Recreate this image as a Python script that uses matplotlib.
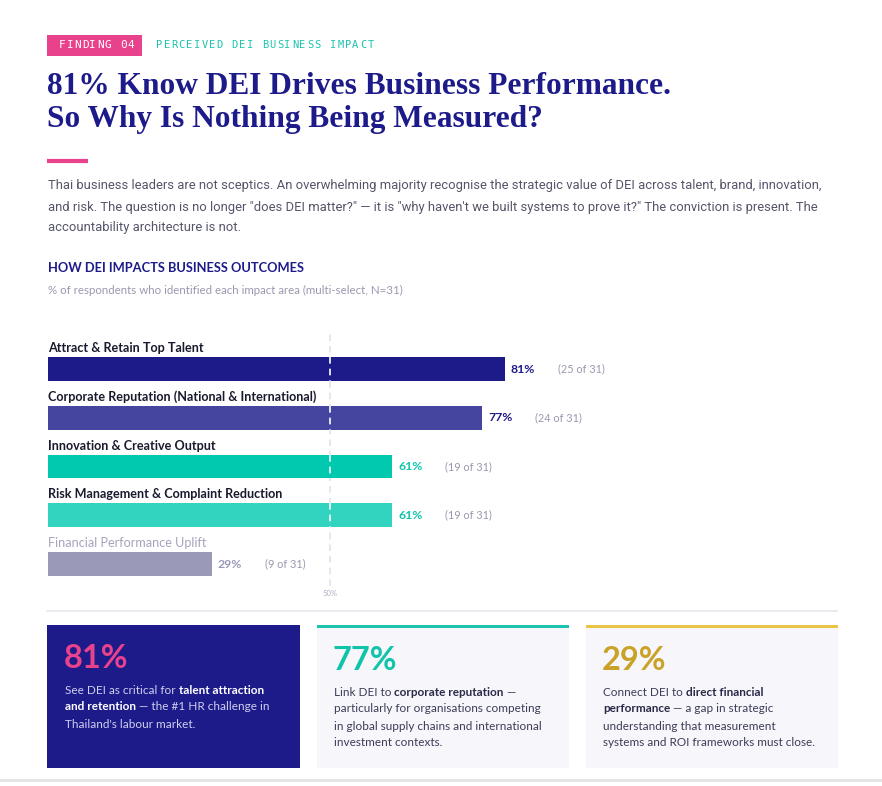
import matplotlib
matplotlib.use("Agg")
import matplotlib.pyplot as plt
from matplotlib.patches import Rectangle

# data
categories = [
    "Attract & Retain Top Talent",
    "Corporate Reputation (National & International)",
    "Innovation & Creative Output",
    "Risk Management & Complaint Reduction",
    "Financial Performance Uplift",
]
percent = [81, 77, 61, 61, 29]
counts = [25, 24, 19, 19, 9]
n_total = 31
bar_colors = ["#1d1a8a", "#45459f", "#00c9b0", "#33d4bf", "#9b99b8"]
value_colors = ["#1d1a8a", "#1d1a8a", "#10c4aa", "#10c4aa", "#9b99b8"]
label_colors = ["#1a1a2e", "#1a1a2e", "#1a1a2e", "#1a1a2e", "#a6a4bd"]
reference_line = 50

NAVY = "#1d1a8a"
PINK = "#e8428c"
TEAL = "#10c4aa"
GOLD = "#c9a227"
SANS = "Lato"

fig = plt.figure(figsize=(8.82, 7.86), dpi=100)
fig.patch.set_facecolor("white")

# full-figure axes in pixel coordinates for text / panels
bg = fig.add_axes([0, 0, 1, 1])
bg.set_xlim(0, 882)
bg.set_ylim(786, 0)
bg.axis("off")

renderer = fig.canvas.get_renderer()


def spaced(x, y, txt, step, **kw):
    for ch in txt:
        bg.text(x, y, ch, va="center", ha="left", **kw)
        x += step


def runs(x, y, parts, size, family=SANS):
    for txt, weight, color in parts:
        t = bg.text(x, y, txt, fontsize=size, fontweight=weight, color=color,
                    family=family, va="center", ha="left")
        x += t.get_window_extent(renderer).width


# tag line
bg.add_patch(Rectangle((47, 35), 95, 21, color=PINK, lw=0))
spaced(59, 45.5, "FINDING 04", 7.6, fontsize=8, color="white", family="DejaVu Sans Mono")
spaced(156, 45.5, "PERCEIVED DEI BUSINESS IMPACT", 7.55, fontsize=7.5, color="#1cc4ae",
       family="DejaVu Sans Mono")

# title
bg.text(47, 86, "81% Know DEI Drives Business Performance.", fontsize=22.6, fontweight="bold",
        color=NAVY, family="Liberation Serif", va="center")
bg.text(47, 119, "So Why Is Nothing Being Measured?", fontsize=22.6, fontweight="bold",
        color=NAVY, family="Liberation Serif", va="center")
bg.plot([47, 88], [161, 161], color=PINK, lw=3, solid_capstyle="butt")

# intro paragraph
intro = [
    "Thai business leaders are not sceptics. An overwhelming majority recognise the strategic value of DEI across talent, brand, innovation,",
    "and risk. The question is no longer \"does DEI matter?\" \u2014 it is \"why haven't we built systems to prove it?\" The conviction is present. The",
    "accountability architecture is not.",
]
for i, line in enumerate(intro):
    bg.text(48, 186 + i * 21, line, fontsize=9.4, color="#55556a", family="Roboto", va="center")

bg.text(48, 268, "HOW DEI IMPACTS BUSINESS OUTCOMES", fontsize=9.3, fontweight="bold",
        color=NAVY, family=SANS, va="center")
bg.text(48, 290, "% of respondents who identified each impact area (multi-select, N=31)",
        fontsize=8.3, color="#9a98b0", family=SANS, va="center")

# bar chart axes: 0% at x=48px, 100% at x=612px ; top 330px, bottom 590px
ax = fig.add_axes([48 / 882, 1 - 590 / 786, 564 / 882, 260 / 786])
ax.set_xlim(0, 100)
ax.set_ylim(4.533, -0.8)
ax.axis("off")
ypos = list(range(len(categories)))
ax.barh(ypos, percent, height=0.49, color=bar_colors, zorder=2)
ax.axvline(reference_line, ymin=0.015, ymax=1, color="#e2e2ea", lw=1.2, ls=(0, (4, 3)), zorder=1)
for i, (cat, p, c) in enumerate(zip(categories, percent, counts)):
    ax.text(0, i - 0.43, cat, fontsize=9.1, color=label_colors[i],
            fontweight="bold" if i < 4 else "normal", family=SANS, va="center", ha="left")
    ax.annotate(f"{p}%", (p, i), xytext=(6, 0), textcoords="offset pixels",
                fontsize=8.8, fontweight="bold", color=value_colors[i], family=SANS,
                va="center", ha="left")
    ax.annotate(f"({c} of {n_total})", (p, i), xytext=(53, 0), textcoords="offset pixels",
                fontsize=7.8, color="#9a98b0", family=SANS, va="center", ha="left")
# white dashes over bars at reference line
for i, p in enumerate(percent):
    if p > reference_line:
        ax.plot([reference_line] * 2, [i - 0.245, i + 0.245], color="white", lw=1.2,
                ls=(0, (4, 3)), zorder=3)
ax.text(reference_line, 4.53, f"{reference_line}%", fontsize=5.5, color="#b0aec4",
        ha="center", va="top", family=SANS)

# separator
bg.plot([47, 837], [611, 611], color="#e6e6ee", lw=1.2)

# cards
bg.add_patch(Rectangle((47, 625), 253, 143, color=NAVY, lw=0))
bg.add_patch(Rectangle((317, 625), 252, 143, color="#f6f6fb", lw=0))
bg.add_patch(Rectangle((317, 625), 252, 3, color="#1cc4ae", lw=0))
bg.add_patch(Rectangle((586, 625), 252, 143, color="#f6f6fb", lw=0))
bg.add_patch(Rectangle((586, 625), 252, 3, color="#e8c547", lw=0))

bg.text(64, 658, "81%", fontsize=23.5, fontweight="bold", color=PINK, family=SANS, va="center")
bg.text(333, 660, "77%", fontsize=23.5, fontweight="bold", color=TEAL, family=SANS, va="center")
bg.text(602, 660, "29%", fontsize=23.5, fontweight="bold", color=GOLD, family=SANS, va="center")

lt = "#cfcfee"
runs(65, 690, [("See DEI as critical for ", "normal", lt), ("talent attraction", "bold", "white")], 8.5)
runs(65, 707, [("and retention", "bold", "white"), (" \u2014 the #1 HR challenge in", "normal", lt)], 8.5)
runs(65, 724, [("Thailand's labour market.", "normal", lt)], 8.5)

dk = "#3c3c58"
bd = "#2a2a48"
runs(334, 692, [("Link DEI to ", "normal", dk), ("corporate reputation", "bold", bd), (" \u2014", "normal", dk)], 8.5)
runs(334, 709, [("particularly for organisations competing", "normal", dk)], 8.5)
runs(334, 726, [("in global supply chains and international", "normal", dk)], 8.5)
runs(334, 743, [("investment contexts.", "normal", dk)], 8.5)

runs(603, 692, [("Connect DEI to ", "normal", dk), ("direct financial", "bold", bd)], 8.5)
runs(603, 709, [("performance", "bold", bd), (" \u2014 a gap in strategic", "normal", dk)], 8.5)
runs(603, 726, [("understanding that measurement", "normal", dk)], 8.5)
runs(603, 743, [("systems and ROI frameworks must close.", "normal", dk)], 8.5)

bg.plot([0, 882], [780, 780], color="#e4e4e4", lw=2)

fig.savefig("out.png", dpi=100, facecolor="white")
